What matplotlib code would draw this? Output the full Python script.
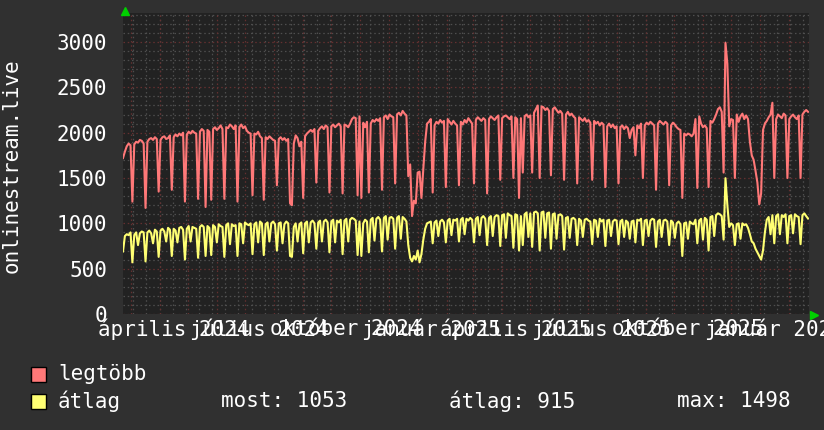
import numpy as np
import pandas as pd
import matplotlib
matplotlib.use("Agg")
import matplotlib.pyplot as plt
from matplotlib.patches import Rectangle

# napi adatok, 2 naponta (2024-02-22 -> 2026-02-21)
start = "2024-02-22"
legtobb = [
    1720, 1790, 1850, 1880, 1860, 1240, 1870, 1900, 1890, 1920,
    1910, 1880, 1170, 1900, 1930, 1940, 1920, 1950, 1930, 1350,
    1920, 1950, 1960, 1930, 1940, 1970, 1370, 1950, 1980, 1960,
    1990, 1970, 2000, 1240, 1980, 2010, 1990, 2020, 2000, 1990,
    1270, 2010, 2040, 2020, 1180, 2030, 2010, 1260, 2040, 2060,
    2030, 2050, 2080, 2040, 1270, 2060, 2050, 2090, 2070, 2040,
    2080, 1240, 2060, 2090, 2050, 2070, 2020, 2000, 1990, 1310,
    1990, 1980, 2010, 1960, 1940, 1260, 1950, 1930, 1960, 1940,
    1920, 1910, 1420, 1930, 1950, 1920, 1940, 1910, 1930, 1220,
    1200, 1880, 1970, 1940, 1850, 1900, 1280, 1960, 1990, 2010,
    2030, 2010, 2040, 1450, 2020, 2050, 2070, 2040, 2080, 2060,
    1340, 2070, 2090, 2060, 2080, 2100, 2070, 1330, 2090, 2080,
    2060, 2100, 2150, 2170, 2160, 1310, 2180, 1280, 2110, 2060,
    2120, 1340, 2100, 2140, 2120, 2150, 2130, 2160, 1370, 2170,
    2190, 2150, 2200, 2180, 2170, 1440, 2200, 2220, 2190, 2240,
    2210, 2190, 1520, 1650, 1080, 1250, 1220, 1560, 1570, 1280,
    1600, 1900, 2100, 2120, 2150, 1340, 2080, 2120, 2100, 2140,
    2110, 2130, 1400, 2150, 2120, 2090, 2130, 2100, 2080, 1420,
    2120, 2090, 2140, 2110, 2160, 2130, 2100, 1440, 2140, 2170,
    2150, 2130, 2160, 2140, 1330, 2150, 2180, 2160, 2140, 2170,
    2190, 1480, 2160, 2180, 2190, 2170, 2150, 2180, 1500, 2170,
    2150, 1280, 2160, 1560, 2180, 2200, 2170, 2190, 1560, 2220,
    2260, 2300, 1500, 2290, 2280, 2250, 2270, 2240, 1530, 2260,
    2280, 2250, 2220, 2240, 2210, 1480, 2200, 2230, 2190, 2210,
    2180, 2160, 1440, 2170, 2150, 2130, 2160, 2120, 2140, 2110,
    1480, 2130, 2100, 2120, 2080, 2110, 2090, 1400, 2070, 2100,
    2060, 2090, 2050, 2070, 1440, 2060, 2080, 2040, 2070, 2050,
    1940, 2030, 2060, 1750, 2080, 2050, 2100, 1500, 2080, 2110,
    2090, 2120, 2100, 2080, 1370, 2100, 2130, 2110, 2090, 2120,
    2100, 1420, 2080, 2110, 2090, 2060, 2040, 2030, 1280, 1990,
    1970, 1990, 1980, 1960, 1990, 2150, 1390, 2180, 2100, 2060,
    2080, 2050, 1400, 2130, 2110, 2150, 2200, 2260, 2280, 2230,
    1560, 2990, 2760, 2070, 2150, 2140, 1500, 2200, 2120, 2180,
    2210, 2150, 2190, 2150, 1900, 1750, 1700, 1580, 1450, 1210,
    1330, 2030, 2100, 2130, 2170, 2200, 2330, 1500, 2150, 2200,
    2180, 2160, 2210, 2190, 1500, 2150, 2180, 2200, 2170, 2150,
    2190, 1500, 2200, 2230, 2250, 2230,
]
atlag = [
    690, 860, 880, 870, 900, 570, 870, 900, 760, 890,
    910, 900, 580, 900, 920, 890, 780, 930, 910, 630,
    920, 940, 910, 800, 950, 930, 640, 940, 920, 790,
    950, 960, 930, 600, 940, 970, 800, 960, 950, 940,
    620, 960, 980, 960, 640, 970, 950, 650, 980, 960,
    790, 990, 970, 960, 630, 980, 1000, 770, 990, 970,
    980, 640, 1000, 990, 780, 1010, 990, 980, 1000, 660,
    990, 1010, 790, 1020, 1000, 650, 990, 1010, 800, 1000,
    1020, 990, 700, 1000, 1010, 780, 990, 1020, 1000, 640,
    630, 960, 1000, 800, 990, 1010, 670, 1000, 1020, 790,
    1010, 1030, 1000, 720, 1010, 1030, 800, 1020, 1040, 1010,
    680, 1020, 1040, 790, 1030, 1010, 1040, 660, 1030, 1050,
    800, 1040, 1060, 1050, 1030, 650, 1020, 640, 1000, 1040,
    1020, 680, 1040, 1060, 810, 1050, 1070, 1040, 690, 1060,
    1080, 820, 1060, 1070, 1050, 720, 1060, 1080, 830, 1070,
    1050, 1020, 760, 620, 580, 640, 600, 700, 570, 660,
    820, 940, 1000, 1010, 1020, 780, 1010, 1030, 860, 1020,
    1040, 1010, 790, 1030, 1050, 870, 1040, 1030, 1050, 800,
    1040, 1060, 880, 1050, 1030, 1060, 1040, 790, 1050, 1070,
    870, 1060, 1080, 1050, 760, 1060, 1080, 860, 1070, 1090,
    1080, 750, 1090, 1100, 840, 1110, 1090, 1080, 730, 1100,
    1090, 700, 1080, 760, 1100, 1120, 850, 1110, 740, 1120,
    1130, 1110, 700, 1120, 1130, 840, 1110, 1120, 720, 1100,
    1110, 830, 1090, 1100, 1080, 710, 1060, 1070, 840, 1050,
    1060, 1040, 760, 1050, 1030, 850, 1040, 1050, 1030, 1020,
    770, 1040, 1030, 850, 1050, 1020, 1040, 750, 1030, 1040,
    860, 1020, 1040, 1030, 770, 1020, 1040, 850, 1030, 1010,
    830, 1020, 1030, 790, 1040, 1030, 1050, 760, 1030, 1040,
    860, 1030, 1050, 1040, 740, 1020, 1040, 850, 1030, 1040,
    1020, 760, 1030, 1010, 840, 1000, 1020, 990, 640, 1000,
    1010, 830, 1020, 1000, 990, 1040, 780, 1030, 1050, 820,
    1060, 1040, 700, 1070, 1080, 860, 1090, 1110, 1100, 1080,
    820, 1498, 1200, 960, 1000, 980, 760, 990, 1000, 830,
    1000, 980, 990, 950, 880, 800, 780, 720, 680, 640,
    600, 700, 900, 1040, 1070, 880, 1090, 780, 1080, 1100,
    880, 1090, 1070, 1100, 780, 1080, 1090, 890, 1100, 1080,
    1070, 770, 1090, 1110, 1080, 1053,
]

x_labels = ["április 2024", "július 2024", "október 2024", "január 2025",
            "április 2025", "július 2025", "október 2025", "január 2026"]
x_label_months = ["2024-04-01", "2024-07-01", "2024-10-01", "2025-01-01",
                  "2025-04-01", "2025-07-01", "2025-10-01", "2026-01-01"]
y_ticks = [0, 500, 1000, 1500, 2000, 2500, 3000]

BG = "#303030"
PLOT_BG = "#222222"
RED = "#ff7878"
YELLOW = "#ffff73"
MINOR = "#4e4e4e"
MAJOR = "#643030"
FONT = "DejaVu Sans Mono"
FS = 15

plt.rcParams["font.family"] = FONT

W, H = 824, 430
fig = plt.figure(figsize=(W / 100, H / 100), dpi=100, facecolor=BG)
ax = fig.add_axes([123 / W, 1 - 314 / H, 686 / W, 301 / H])
ax.set_facecolor(PLOT_BG)

dates = pd.date_range(start, periods=len(legtobb), freq="2D")
x0 = pd.Timestamp("2024-02-22")
x1 = pd.Timestamp("2026-02-22")
ax.set_xlim(x0, x1)
ax.set_ylim(0, 3320)

# rács
dots = (0, (1.2, 2.2))
for v in range(100, 3400, 100):
    if v % 500:
        ax.axhline(v, color=MINOR, lw=0.9, ls=dots, zorder=1)
for d in pd.date_range("2024-02-19", x1, freq="14D"):
    ax.axvline(d, color=MINOR, lw=0.9, ls=dots, zorder=1)
for v in range(0, 3400, 500):
    ax.axhline(v, color=MAJOR, lw=0.9, ls=dots, zorder=2)
for d in pd.date_range("2024-03-01", x1, freq="MS"):
    ax.axvline(d, color=MAJOR, lw=0.9, ls=dots, zorder=2)

ax.plot(dates, legtobb, color=RED, lw=1.5, zorder=5)
ax.plot(dates, atlag, color=YELLOW, lw=1.5, zorder=5)

for s in ax.spines.values():
    s.set_visible(False)
ax.set_xticks([])
ax.set_yticks(y_ticks)
ax.set_yticklabels([str(v) for v in y_ticks], color="white", fontsize=FS)
ax.tick_params(axis="y", length=0, pad=11.5)

# havi címkék a hónap közepén
for lab, m in zip(x_labels, x_label_months):
    mid = pd.Timestamp(m) + pd.Timedelta(days=15)
    ax.text(mid, -0.05, lab, transform=ax.get_xaxis_transform(),
            ha="center", va="center", color="white", fontsize=FS, clip_on=False)

# nyilak
ax.plot([124.7 / W], [1 - 10.5 / H], marker="^", ms=6, color="#00d000",
        transform=fig.transFigure, clip_on=False)
ax.plot([813.5 / W], [1 - 314.5 / H], marker=">", ms=6, color="#00d000",
        transform=fig.transFigure, clip_on=False)

fig.text(12 / W, 1 - 166 / H, "onlinestream.live", rotation=90,
         ha="center", va="center", color="white", fontsize=FS)

# jelmagyarázat
for yc, col, name in [(374, RED, "legtöbb"), (401, YELLOW, "átlag")]:
    fig.patches.append(Rectangle((31 / W, 1 - (yc + 7.5) / H), 15 / W, 15 / H,
                                 transform=fig.transFigure, fc=col, ec="black", lw=1))
    fig.text(58 / W, 1 - yc / H, name, ha="left", va="center",
             color="white", fontsize=FS)
fig.text(221 / W, 1 - 401 / H, "most: 1053", ha="left", va="center", color="white", fontsize=FS)
fig.text(449 / W, 1 - 401 / H, "átlag: 915", ha="left", va="center", color="white", fontsize=FS)
fig.text(677 / W, 1 - 401 / H, "max: 1498", ha="left", va="center", color="white", fontsize=FS)

fig.savefig("out.png", dpi=100, facecolor=BG)
